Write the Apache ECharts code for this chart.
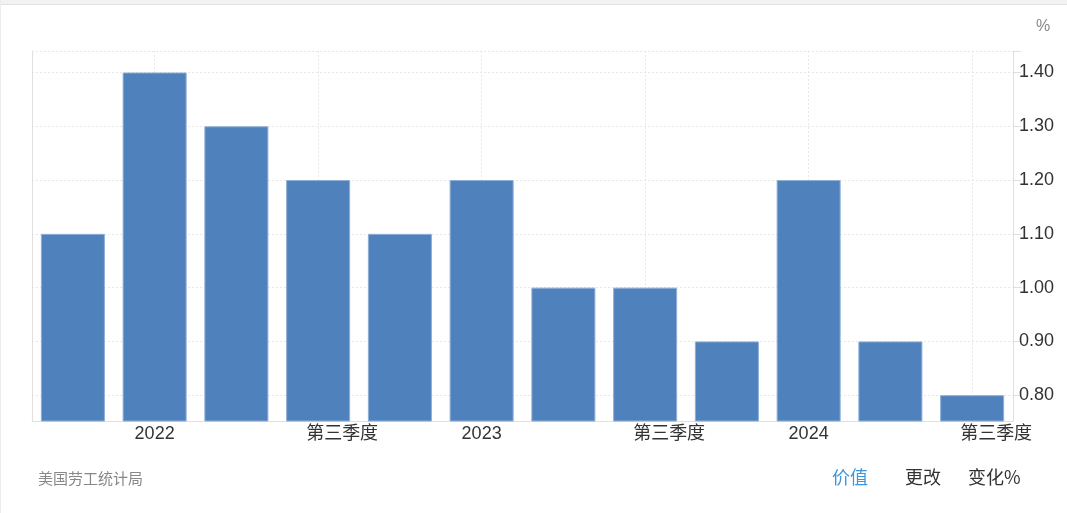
<!DOCTYPE html>
<html>
<head>
<meta charset="utf-8">
<script src="https://cdn.jsdelivr.net/npm/echarts@6/dist/echarts.min.js"></script>
<style>
html, body { margin: 0; padding: 0; background: #fff; }
#chart { width: 1067px; height: 513px; }
</style>
</head>
<body>
<div id="chart"></div>
<script>
// 季度 (2021年第四季度 - 2024年第三季度)
var quarters = ['2021Q4', '2022Q1', '2022Q2', '2022Q3', '2022Q4', '2023Q1',
	'2023Q2', '2023Q3', '2023Q4', '2024Q1', '2024Q2', '2024Q3'];
var tickLabels = ['', '2022', '', '第三季度', '', '2023', '', '第三季度', '', '2024', '', '第三季度'];
var values = [1.1, 1.4, 1.3, 1.2, 1.1, 1.2, 1.0, 1.0, 0.9, 1.2, 0.9, 0.8];
var yLabels = [0.8, 0.9, 1.0, 1.1, 1.2, 1.3, 1.4];

var fontLatin = 'Liberation Sans, Arial, "Noto Sans CJK SC", sans-serif';
var fontCJK = '"Noto Sans CJK SC", sans-serif';
var gridColor = '#e8e8e8';

var myChart = echarts.init(document.getElementById('chart'));
var option = {
	animation: false,
	grid: {
		left: 32,
		right: 54,
		top: 51,
		bottom: 92
	},
	xAxis: [{
		type: 'category',
		data: quarters,
		boundaryGap: true,
		axisLine: { lineStyle: { color: '#e0e0e0' } },
		axisTick: { show: false },
		axisLabel: {
			interval: 0,
			margin: 4,
			color: '#333',
			fontSize: 18,
			fontFamily: fontLatin,
			formatter: function (v, i) {
				var t = tickLabels[i];
				if (!t) return '';
				if (isNaN(+t)) return '{q|' + t + '}';
				return t;
			},
			rich: {
				q: { fontSize: 18, color: '#333', fontFamily: fontLatin, padding: [0, 0, 0, 48] }
			}
		},
		splitLine: {
			show: true,
			alignWithLabel: true,
			interval: function (i) { return tickLabels[i] !== ''; },
			lineStyle: { color: gridColor, type: [2, 2] }
		}
	}],
	yAxis: [{
		type: 'value',
		position: 'right',
		min: 0.752,
		max: 1.44,
		axisLine: { show: true, lineStyle: { color: '#e0e0e0' } },
		axisTick: {
			show: true,
			length: 8,
			customValues: yLabels.concat([1.44]),
			lineStyle: { color: '#e0e0e0' }
		},
		axisLabel: {
			customValues: yLabels,
			margin: 6,
			color: '#333',
			fontSize: 18,
			fontFamily: fontLatin,
			formatter: function (v) { return v.toFixed(2); }
		},
		splitLine: {
			show: true,
			lineStyle: { color: gridColor, type: [2, 2] }
		}
	}, {
		type: 'value',
		position: 'left',
		min: 0.752,
		max: 1.44,
		axisLine: { show: true, lineStyle: { color: '#e0e0e0' } },
		axisTick: { show: false },
		axisLabel: { show: false },
		splitLine: { show: false }
	}],
	series: [{
		type: 'bar',
		data: values,
		yAxisIndex: 0,
		barWidth: 64,
		itemStyle: {
			color: '#4f81bd',
			borderColor: '#8eaed6',
			borderWidth: 1
		}
	}],
	graphic: [
		{ type: 'rect', shape: { x: 0, y: 0, width: 1067, height: 4 }, style: { fill: '#f2f2f2' }, silent: true },
		{ type: 'rect', shape: { x: 0, y: 4, width: 1067, height: 1 }, style: { fill: '#e2e2e2' }, silent: true },
		{ type: 'rect', shape: { x: 0, y: 0, width: 1, height: 513 }, style: { fill: '#ececec' }, silent: true },
		{ type: 'text', left: 1036, top: 19, style: { text: '%', fill: '#888', fontSize: 16, fontFamily: fontLatin } },
		{ type: 'text', left: 38, top: 471, style: { text: '美国劳工统计局', fill: '#888', fontSize: 15, fontFamily: fontCJK } },
		{ type: 'text', left: 832, top: 468, style: { text: '价值', fill: '#3d95de', fontSize: 18, fontFamily: fontCJK } },
		{ type: 'text', left: 905, top: 468, style: { text: '更改', fill: '#333', fontSize: 18, fontFamily: fontCJK } },
		{ type: 'text', left: 968, top: 468, style: { text: '变化%', fill: '#333', fontSize: 18, fontFamily: fontCJK } }
	]
};

myChart.setOption(option);
window.onresize = myChart.resize;
</script>
</body>
</html>
